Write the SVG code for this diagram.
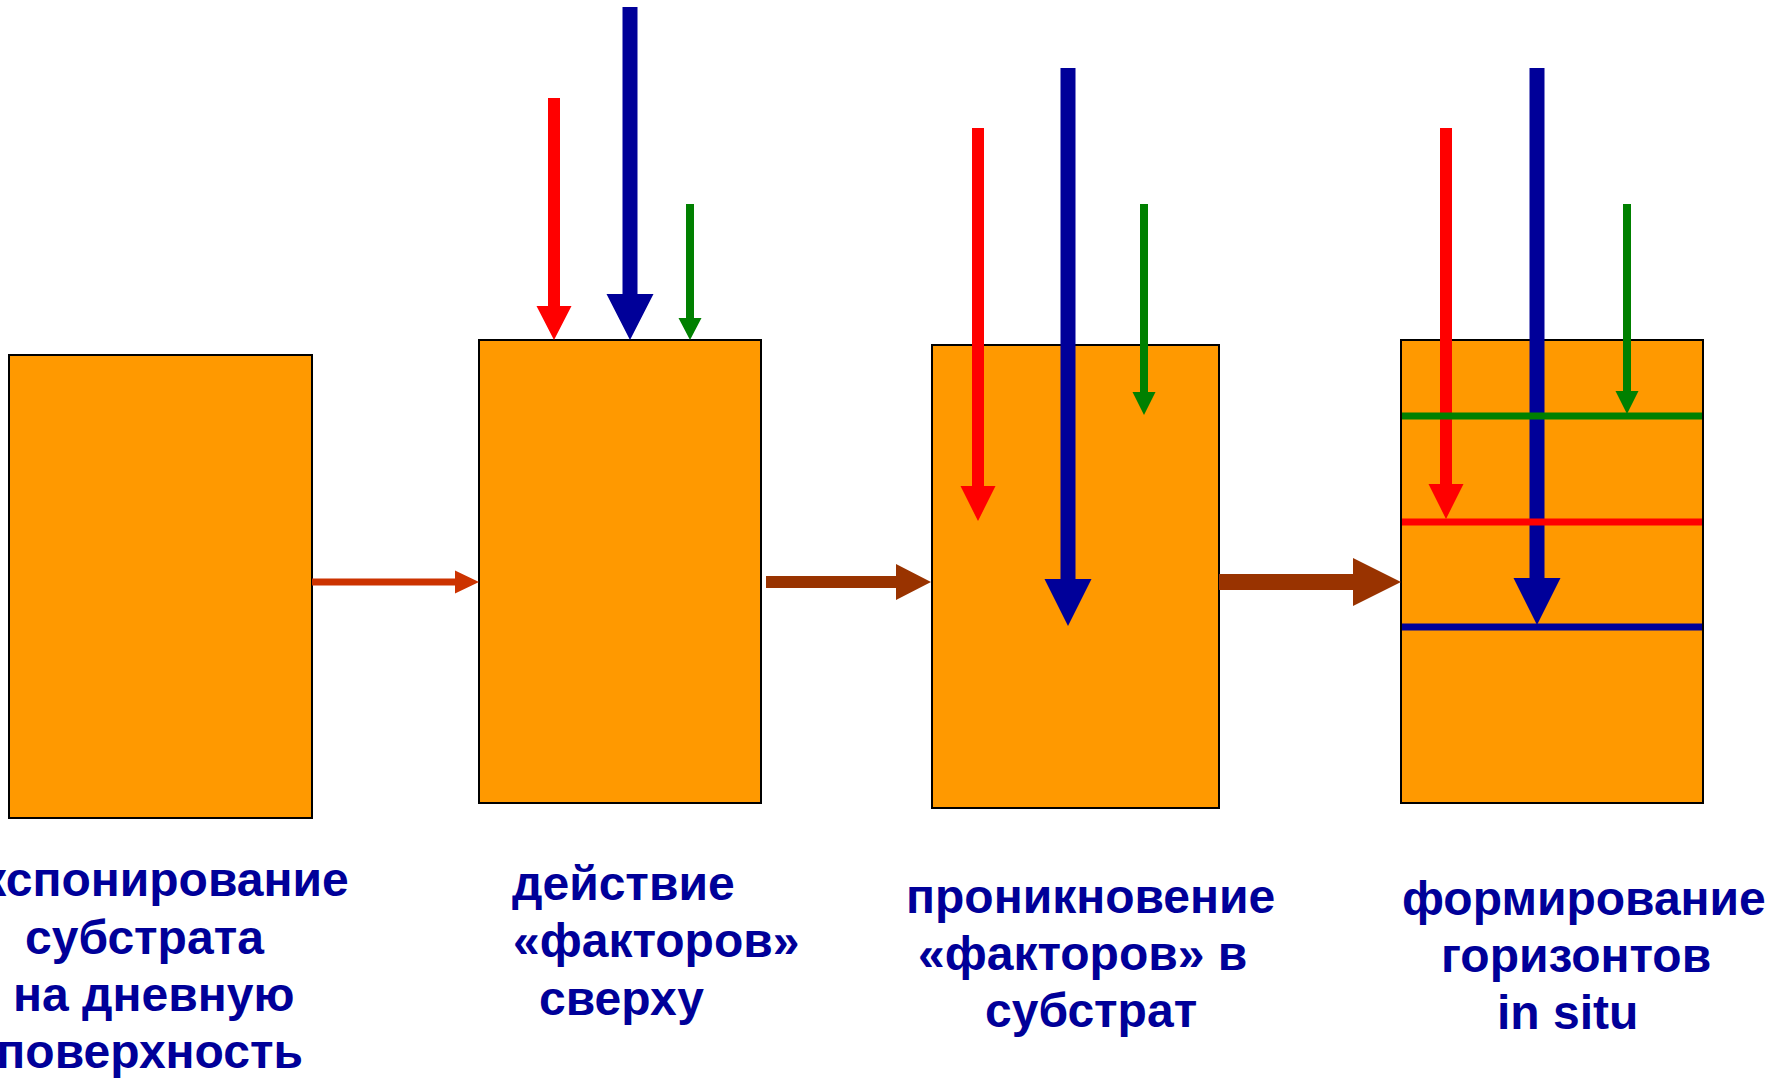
<svg xmlns="http://www.w3.org/2000/svg" width="1779" height="1078" viewBox="0 0 1779 1078">
  <style>
    .box { fill: #FF9900; stroke: #000000; stroke-width: 2; }
    .red { fill: #FF0000; }
    .blue { fill: #000099; }
    .green { fill: #008000; }
    .hz-red { stroke: #FF0000; stroke-width: 7; }
    .hz-blue { stroke: #000099; stroke-width: 7; }
    .hz-green { stroke: #008000; stroke-width: 7; }
    .step1 { fill: #CC3300; }
    .step { fill: #993300; }
    .label { font-family: "Liberation Sans", Arial, sans-serif; font-weight: bold; font-size: 48px; fill: #000099; }
  </style>

  <!-- stage 1: substrate exposed -->
  <g id="stage-exposure">
    <rect class="box" x="9" y="355" width="303" height="463"/>
    <text class="label">
      <tspan x="362" y="896" text-anchor="end">экспонирование</tspan>
      <tspan x="25" y="954">субстрата</tspan>
      <tspan x="13" y="1011">на дневную</tspan>
      <tspan x="303" y="1068" text-anchor="end">поверхность</tspan>
    </text>
  </g>

  <!-- stage 2: factors acting from above -->
  <g id="stage-action">
    <rect class="box" x="479" y="340" width="282" height="463"/>
    <polygon class="red" points="548,98 560,98 560,306 571.5,306 554,340 536.5,306 548,306"/>
    <polygon class="blue" points="622.5,7 637.5,7 637.5,294 653.5,294 630,340 606.5,294 622.5,294"/>
    <polygon class="green" points="686,204 694,204 694,318 701.5,318 690,340 678.5,318 686,318"/>
    <text class="label">
      <tspan x="512" y="900">действие</tspan>
      <tspan x="513" y="957">«факторов»</tspan>
      <tspan x="539" y="1015">сверху</tspan>
    </text>
  </g>

  <!-- stage 3: factors penetrating the substrate -->
  <g id="stage-penetration">
    <rect class="box" x="932" y="345" width="287" height="463"/>
    <polygon class="red" points="972,128 984,128 984,486 995.5,486 978,521 960.5,486 972,486"/>
    <polygon class="blue" points="1060.5,68 1075.5,68 1075.5,579 1091.5,579 1068,626 1044.5,579 1060.5,579"/>
    <polygon class="green" points="1140,204 1148,204 1148,392 1155.5,392 1144,415 1132.5,392 1140,392"/>
    <text class="label">
      <tspan x="906" y="913">проникновение</tspan>
      <tspan x="918" y="970">«факторов» в</tspan>
      <tspan x="985" y="1027">субстрат</tspan>
    </text>
  </g>

  <!-- stage 4: horizons formed in situ -->
  <g id="stage-horizons">
    <rect class="box" x="1401" y="340" width="302" height="463"/>
    <polygon class="red" points="1440,128 1452,128 1452,484 1463.5,484 1446,519 1428.5,484 1440,484"/>
    <polygon class="blue" points="1529.5,68 1544.5,68 1544.5,578 1560.5,578 1537,625 1513.5,578 1529.5,578"/>
    <polygon class="green" points="1623,204 1631,204 1631,391 1638.5,391 1627,414 1615.5,391 1623,391"/>
    <line class="hz-green" x1="1402" y1="416" x2="1702" y2="416"/>
    <line class="hz-red" x1="1402" y1="522" x2="1702" y2="522"/>
    <line class="hz-blue" x1="1402" y1="627" x2="1702" y2="627"/>
    <text class="label">
      <tspan x="1402" y="915">формирование</tspan>
      <tspan x="1441" y="972">горизонтов</tspan>
      <tspan x="1497" y="1029">in situ</tspan>
    </text>
  </g>

  <!-- transitions between stages -->
  <g id="connectors">
    <polygon class="step1" points="312,578.5 455,578.5 455,570.5 479,582 455,593.5 455,585.5 312,585.5"/>
    <polygon class="step" points="766,576 896,576 896,564 931,582 896,600 896,588 766,588"/>
    <polygon class="step" points="1219,574 1353,574 1353,558 1401,582 1353,606 1353,590 1219,590"/>
  </g>
</svg>
